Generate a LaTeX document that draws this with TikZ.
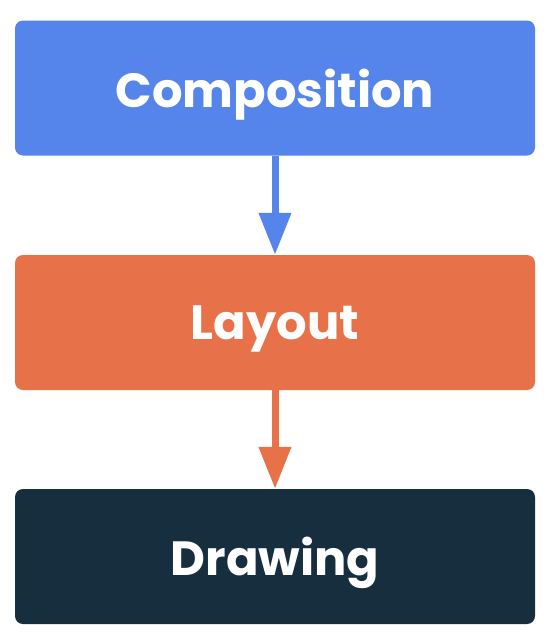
\documentclass[tikz,border=0pt]{standalone}
\usepackage{fontspec}
\setmainfont{Poppins}
\usetikzlibrary{arrows.meta}
\definecolor{cblue}{HTML}{5584EA}
\definecolor{corange}{HTML}{E77148}
\definecolor{cdark}{HTML}{172E3F}
\tikzset{
  stagebox/.style={rectangle, rounded corners=8pt, minimum width=520pt, minimum height=135pt, inner sep=0pt, text=white, text depth=0pt, font=\fontsize{48}{54}\selectfont\bfseries},
  flowarrow/.style={line width=7pt, -{Triangle[width=31pt,length=42pt]}, shorten >=0pt}
}
\begin{document}
\begin{tikzpicture}[x=1pt,y=-1pt]
\useasboundingbox (0,0) rectangle (555,640);
\fill[white] (0,0) rectangle (555,640);
\node[stagebox, fill=cblue] (comp) at (275,88) {Composition};
\node[stagebox, fill=corange] (lay) at (275,322.5) {Layout};
\node[stagebox, fill=cdark] (draw) at (275,556.5) {Drawing};
\draw[flowarrow, cblue] (comp.south) -- (lay.north);
\draw[flowarrow, corange] (lay.south) -- (draw.north);
\end{tikzpicture}
\end{document}
